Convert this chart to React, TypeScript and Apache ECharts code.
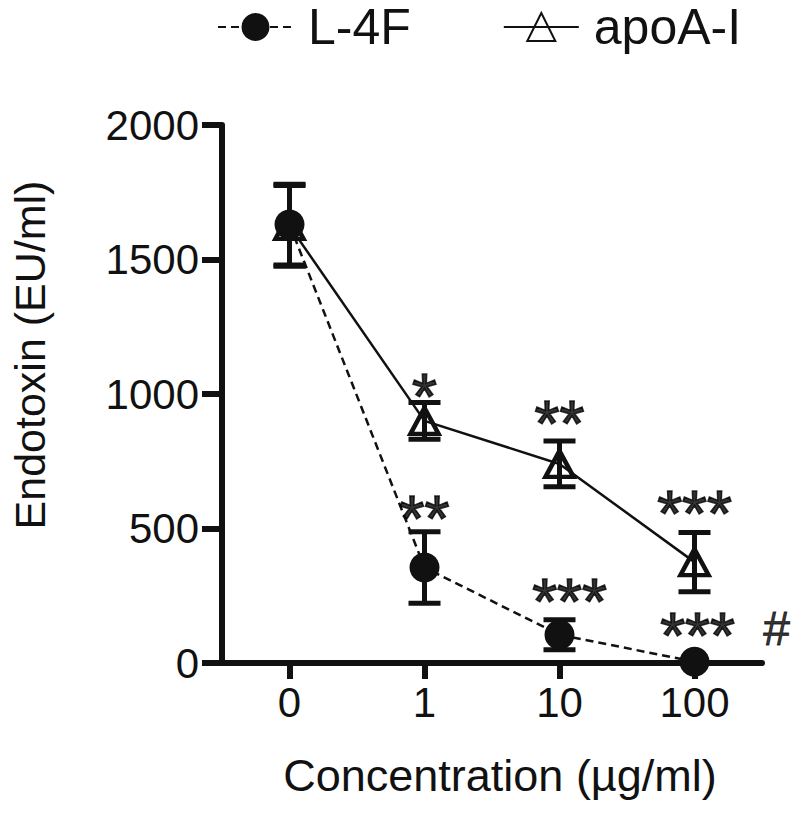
import React, { useEffect, useRef } from "react";
import * as echarts from "echarts";

const categories = ["0", "1", "10", "100"];
const l4fMean = [1630, 355, 105, 5];
const l4fErr = [150, 133, 56, 0];
const apoMean = [1625, 900, 740, 375];
const apoErr = [150, 68, 85, 110];

const yTicks = { min: 0, max: 2000, interval: 500 };

const annotCats = ["1", "10", "100", "1", "10", "100", "100"];
const annotY = [1040, 941, 606, 587, 279, 152, 130];
const annotText = ["*", "**", "***", "**", "***", "***", "#"];
const annotDx = [0, 0, 0, 0, 10, 3, 82];

const FONT = "'Liberation Sans', Arial, sans-serif";

export default function App() {
  const ref = useRef<HTMLDivElement>(null);
  useEffect(() => {
    if (!ref.current) return;
    const chart = echarts.init(ref.current, undefined, { renderer: "svg" });

    const errData = (means: number[], errs: number[]) =>
      means.map((m, i) => [i, m - errs[i], m + errs[i]]);

    const errorSeries = (name: string, means: number[], errs: number[], z: number) => ({
      type: "custom",
      name: name + "-err",
      z,
      silent: true,
      data: errData(means, errs),
      renderItem: (params: any, api: any) => {
        const x = api.value(0);
        const lo = api.value(1);
        const hi = api.value(2);
        if (hi - lo <= 0) return null;
        const pHi = api.coord([x, hi]);
        const pLo = api.coord([x, lo]);
        const hw = 16;
        const st = { stroke: "#111", lineWidth: 5 };
        return {
          type: "group",
          children: [
            { type: "line", shape: { x1: pHi[0], y1: pHi[1], x2: pLo[0], y2: pLo[1] }, style: st },
            { type: "line", shape: { x1: pHi[0] - hw, y1: pHi[1], x2: pHi[0] + hw, y2: pHi[1] }, style: st },
            { type: "line", shape: { x1: pLo[0] - hw, y1: pLo[1], x2: pLo[0] + hw, y2: pLo[1] }, style: st },
          ],
        };
      },
    });

    const annotData = annotCats.map((c, i) => {
      const isHash = annotText[i] === "#";
      return {
        value: [c, annotY[i]],
        label: {
          formatter: annotText[i],
          offset: [annotDx[i], isHash ? 0 : 14],
          fontSize: isHash ? 48 : 64,
          fontWeight: "normal",
          color: "#000",
          textBorderColor: "#000",
          textBorderWidth: isHash ? 0.8 : 1.6,
        },
      };
    });

    chart.setOption({
      animation: false,
      backgroundColor: "#fff",
      textStyle: { fontFamily: FONT, color: "#000" },
      grid: { left: 218, right: 38, top: 125, bottom: 152, containLabel: false },
      legend: {
        left: 217,
        top: 2,
        padding: 0,
        itemWidth: 75,
        itemHeight: 35,
        itemGap: 92,
        data: ["L-4F", "apoA-I"],
        textStyle: { fontSize: 50, color: "#111", fontFamily: FONT, padding: [0, 0, 0, 10] },
      },
      xAxis: {
        type: "category",
        data: categories,
        boundaryGap: true,
        axisLine: { lineStyle: { color: "#111", width: 6 } },
        axisTick: { show: true, alignWithLabel: true, length: 16, lineStyle: { width: 6, color: "#111" } },
        axisLabel: { fontSize: 42, margin: 18, color: "#111", fontFamily: FONT },
        name: "Concentration (µg/ml)",
        nameLocation: "middle",
        nameGap: 90,
        nameTextStyle: { fontSize: 45, color: "#111", fontFamily: FONT, padding: [0, 0, 0, 16] },
      },
      yAxis: {
        type: "value",
        min: yTicks.min,
        max: yTicks.max,
        interval: yTicks.interval,
        splitLine: { show: false },
        axisLine: { show: true, lineStyle: { color: "#111", width: 6 } },
        axisTick: { show: true, length: 20, lineStyle: { width: 6, color: "#111" } },
        axisLabel: {
          fontSize: 42,
          margin: 23,
          color: "#111",
          fontFamily: FONT,
          formatter: (v: number) => String(v),
        },
        name: "Endotoxin (EU/ml)",
        nameLocation: "middle",
        nameGap: 171,
        nameTextStyle: { fontSize: 43, color: "#111", fontFamily: FONT, padding: [0, 0, 0, 78] },
      },
      series: [
        errorSeries("apoA-I", apoMean, apoErr, 2),
        {
          name: "apoA-I",
          type: "line",
          z: 3,
          data: apoMean,
          symbol: "triangle",
          symbolSize: [28, 26],
          lineStyle: { color: "#111", width: 2.5, type: "solid" },
          itemStyle: { color: "rgba(255,255,255,0)", borderColor: "#111", borderWidth: 4.5 },
        },
        errorSeries("L-4F", l4fMean, l4fErr, 4),
        {
          name: "L-4F",
          type: "line",
          z: 5,
          data: l4fMean,
          symbol: "circle",
          symbolSize: 30,
          lineStyle: { color: "#111", width: 2.5, type: [8, 5] },
          itemStyle: { color: "#111", borderColor: "#111", borderWidth: 0 },
        },
        {
          name: "annotations",
          type: "scatter",
          z: 6,
          symbolSize: 0,
          silent: true,
          data: annotData,
          label: {
            show: true,
            position: "inside",
            color: "#000",
            fontFamily: FONT,
          },
        },
      ],
    });
    return () => chart.dispose();
  }, []);
  return (
    <div
      ref={ref}
      style={{ position: "fixed", left: 0, top: 0, width: 800, height: 815, background: "#fff" }}
    />
  );
}
